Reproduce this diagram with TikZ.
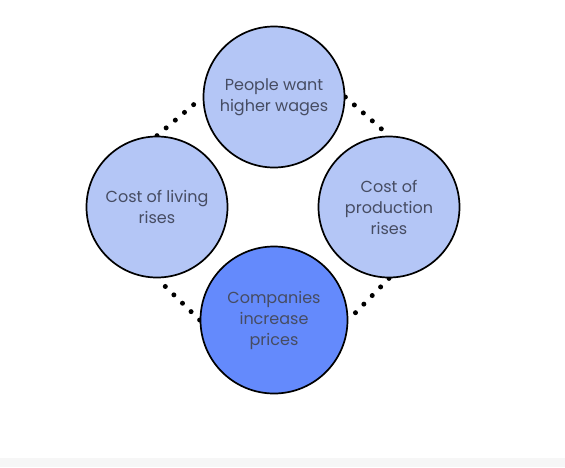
\documentclass[tikz,border=0pt]{standalone}
\usepackage{fontspec}
\setmainfont{Poppins}
\usetikzlibrary{backgrounds}
\definecolor{lightc}{RGB}{180,198,246}
\definecolor{darkc}{RGB}{100,138,252}
\definecolor{txt}{RGB}{70,76,98}
\definecolor{band}{RGB}{246,246,246}
\begin{document}
\begin{tikzpicture}[x=1pt,y=-1pt,
  circ/.style={circle, draw=black, line width=1.7pt, minimum size=141pt, inner sep=0pt,
    align=center, text=txt, font=\fontsize{16}{21}\selectfont},
  dots/.style={line width=5pt, line cap=round, dash pattern=on 0pt off 12pt}]
\useasboundingbox (0,0) rectangle (565,467);
\node[circ, fill=lightc] (top) at (274,97) {People want\\higher wages};
\node[circ, fill=lightc] (left) at (157,207) {Cost of living\\rises};
\node[circ, fill=lightc] (right) at (389,207) {Cost of\\production\\rises};
\node[circ, fill=darkc, minimum size=147pt] (bottom) at (274,320) {Companies\\increase\\prices};
\begin{scope}[on background layer]
\fill[band] (0,458) rectangle (565,467);
\draw[dots] (left.north) -- (top.west);
\draw[dots] (top.east) -- (right.north);
\draw[dots] (right.south) -- (bottom.east);
\draw[dots] (bottom.west) -- (left.south);
\end{scope}
\end{tikzpicture}
\end{document}
